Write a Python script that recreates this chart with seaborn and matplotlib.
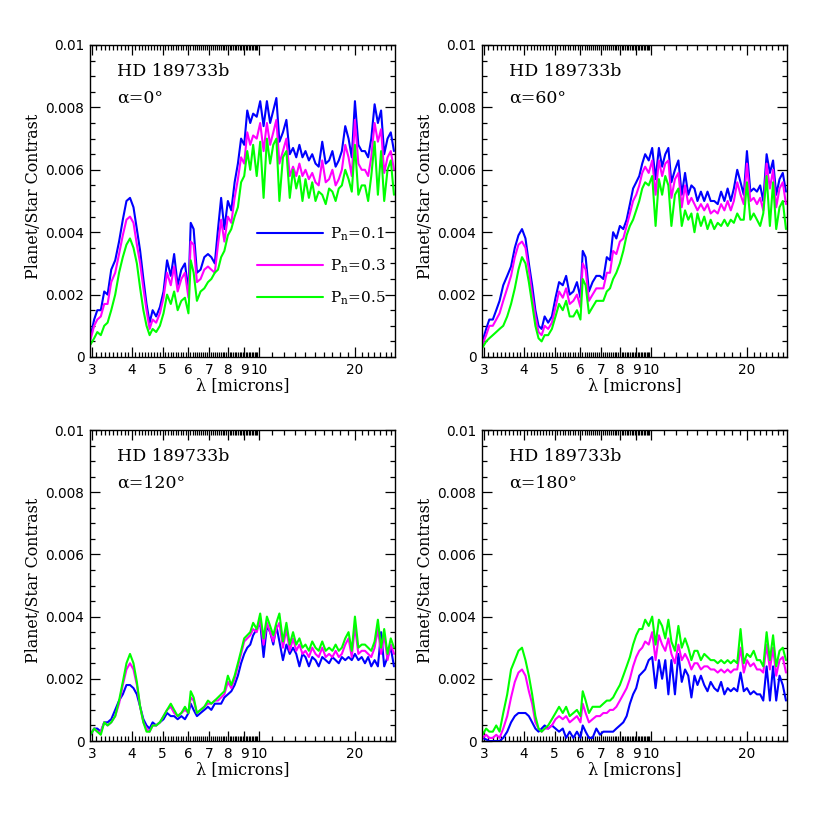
import matplotlib
matplotlib.use("Agg")
import numpy as np
import pandas as pd
import matplotlib.pyplot as plt
import seaborn as sns
from matplotlib.ticker import FixedLocator, FixedFormatter

# ---------------- data ----------------
wavelength = [2.97, 3.05, 3.12, 3.2, 3.28, 3.36, 3.45, 3.55, 3.65, 3.75,
              3.85, 3.95, 4.05, 4.15, 4.25, 4.35, 4.45, 4.55, 4.65, 4.77,
              4.9, 5.03, 5.16, 5.3, 5.43, 5.57, 5.72, 5.87, 6.02, 6.12,
              6.25, 6.4, 6.57, 6.75, 6.93, 7.1, 7.28, 7.45, 7.62, 7.8,
              8.0, 8.2,
              8.4, 8.6, 8.8, 9.0, 9.2, 9.4, 9.6, 9.85, 10.1, 10.35,
              10.6, 10.85, 11.1, 11.35, 11.6, 11.9, 12.2, 12.5, 12.8, 13.1,
              13.4, 13.7, 14.0, 14.35, 14.7, 15.05, 15.4, 15.8, 16.2, 16.6,
              17.0, 17.4, 17.8, 18.2, 18.65, 19.1, 19.55, 20.0, 20.5, 21.0,
              21.5, 22.0, 22.5, 23.05, 23.6, 24.15, 24.7, 25.3, 25.9, 26.5]

# alpha = 0
a0_p01 = [0.00065, 0.0012, 0.0015, 0.0015, 0.0021, 0.0020, 0.0028, 0.0031, 0.0037, 0.0044,
          0.0050, 0.0051, 0.0048, 0.0041, 0.0034, 0.0025, 0.0017, 0.0011, 0.0015, 0.0013,
          0.0016, 0.0021, 0.0031, 0.0026, 0.0033, 0.0023, 0.0028, 0.0030, 0.0021, 0.0043,
          0.0041, 0.0027, 0.0028, 0.0032, 0.0033, 0.0032, 0.0030, 0.0041, 0.0051, 0.0041,
          0.0050, 0.0047,
          0.0056, 0.0062, 0.0070, 0.0068, 0.0079, 0.0075, 0.0078, 0.0077, 0.0082, 0.0074,
          0.0082, 0.0075, 0.0079, 0.0083, 0.0069, 0.0072, 0.0076, 0.0065, 0.0067, 0.0064,
          0.0068, 0.0064, 0.0066, 0.0063, 0.0065, 0.0062, 0.0061, 0.0069, 0.0062, 0.0063,
          0.0066, 0.0061, 0.0063, 0.0066, 0.0074, 0.0070, 0.0064, 0.0082, 0.0068, 0.0066,
          0.0066, 0.0064, 0.0070, 0.0081, 0.0075, 0.0079, 0.0065, 0.0070, 0.0072, 0.0066]
a0_p03 = [0.00055, 0.0010, 0.0012, 0.0013, 0.0017, 0.0017, 0.0024, 0.0027, 0.0033, 0.0039,
          0.0044, 0.0045, 0.0043, 0.0036, 0.0030, 0.0022, 0.0015, 0.0009, 0.0012, 0.0011,
          0.0014, 0.0019, 0.0027, 0.0023, 0.0029, 0.0021, 0.0025, 0.0027, 0.0019, 0.0037,
          0.0036, 0.0024, 0.0025, 0.0028, 0.0029, 0.0028, 0.0027, 0.0036, 0.0044, 0.0037,
          0.0045, 0.0043,
          0.0051, 0.0057, 0.0064, 0.0062, 0.0072, 0.0068, 0.0071, 0.0070, 0.0075, 0.0066,
          0.0075, 0.0068, 0.0072, 0.0076, 0.0062, 0.0066, 0.0070, 0.0058, 0.0061, 0.0058,
          0.0062, 0.0058, 0.0060, 0.0057, 0.0059, 0.0056, 0.0055, 0.0063, 0.0056, 0.0057,
          0.0060, 0.0055, 0.0057, 0.0060, 0.0068, 0.0064, 0.0058, 0.0076, 0.0062, 0.0060,
          0.0060, 0.0058, 0.0064, 0.0075, 0.0069, 0.0073, 0.0059, 0.0064, 0.0066, 0.0060]
a0_p05 = [0.0004, 0.0006, 0.0008, 0.0007, 0.0010, 0.0011, 0.0015, 0.0020, 0.0027, 0.0032,
          0.0036, 0.0038, 0.0035, 0.0030, 0.0022, 0.0015, 0.0010, 0.0007, 0.0009, 0.0008,
          0.0010, 0.0014, 0.0020, 0.0017, 0.0021, 0.0015, 0.0018, 0.0019, 0.0014, 0.0031,
          0.0027, 0.0018, 0.0021, 0.0022, 0.0024, 0.0025, 0.0027, 0.0028, 0.0032, 0.0034,
          0.0039, 0.0041,
          0.0045, 0.0048, 0.0056, 0.0058, 0.0066, 0.0060, 0.0068, 0.0058, 0.0069, 0.0051,
          0.0070, 0.0062, 0.0068, 0.0070, 0.0050, 0.0064, 0.0066, 0.0051, 0.0060, 0.0054,
          0.0058, 0.0050, 0.0057, 0.0051, 0.0056, 0.0050, 0.0053, 0.0052, 0.0049, 0.0054,
          0.0053, 0.0050, 0.0054, 0.0055, 0.0060, 0.0057, 0.0053, 0.0068, 0.0052, 0.0055,
          0.0055, 0.0050, 0.0058, 0.0069, 0.0052, 0.0066, 0.0050, 0.0060, 0.0063, 0.0052]

# alpha = 60
a60_p01 = [0.0005, 0.0009, 0.0012, 0.0012, 0.0015, 0.0018, 0.0023, 0.0026, 0.0029, 0.0035,
           0.0039, 0.0041, 0.0038, 0.0030, 0.0023, 0.0015, 0.0010, 0.0009, 0.0013, 0.0011,
           0.0013, 0.0019, 0.0024, 0.0023, 0.0026, 0.0020, 0.0021, 0.0024, 0.0019, 0.0034,
           0.0032, 0.0021, 0.0024, 0.0026, 0.0026, 0.0025, 0.0032, 0.0031, 0.0040, 0.0038,
           0.0042, 0.0041,
           0.0044, 0.0049, 0.0054, 0.0056, 0.0058, 0.0062, 0.0065, 0.0063, 0.0067, 0.0057,
           0.0067, 0.0061, 0.0065, 0.0067, 0.0056, 0.0060, 0.0063, 0.0052, 0.0059, 0.0052,
           0.0055, 0.0054, 0.0050, 0.0053, 0.0050, 0.0053, 0.0050, 0.0050, 0.0049, 0.0053,
           0.0050, 0.0054, 0.0050, 0.0054, 0.0060, 0.0056, 0.0052, 0.0066, 0.0053, 0.0054,
           0.0053, 0.0055, 0.0050, 0.0065, 0.0059, 0.0063, 0.0052, 0.0057, 0.0059, 0.0053]
a60_p03 = [0.0004, 0.0007, 0.0010, 0.0010, 0.0012, 0.0014, 0.0018, 0.0022, 0.0026, 0.0032,
           0.0036, 0.0037, 0.0035, 0.0028, 0.0020, 0.0013, 0.0008, 0.0007, 0.0010, 0.0009,
           0.0011, 0.0016, 0.0021, 0.0019, 0.0022, 0.0017, 0.0018, 0.0020, 0.0016, 0.0030,
           0.0028, 0.0018, 0.0020, 0.0022, 0.0022, 0.0022, 0.0027, 0.0027, 0.0034, 0.0033,
           0.0037, 0.0038,
           0.0042, 0.0046, 0.0050, 0.0052, 0.0055, 0.0059, 0.0061, 0.0059, 0.0063, 0.0052,
           0.0063, 0.0058, 0.0062, 0.0063, 0.0051, 0.0057, 0.0059, 0.0048, 0.0055, 0.0049,
           0.0051, 0.0049, 0.0047, 0.0049, 0.0047, 0.0049, 0.0046, 0.0047, 0.0046, 0.0049,
           0.0047, 0.0050, 0.0047, 0.0050, 0.0056, 0.0052, 0.0049, 0.0062, 0.0050, 0.0051,
           0.0049, 0.0051, 0.0047, 0.0062, 0.0054, 0.0060, 0.0048, 0.0054, 0.0056, 0.0049]
a60_p05 = [0.0003, 0.0005, 0.0006, 0.0007, 0.0008, 0.0009, 0.0010, 0.0013, 0.0017, 0.0022,
           0.0028, 0.0032, 0.0030, 0.0024, 0.0017, 0.0010, 0.0006, 0.0005, 0.0007, 0.0007,
           0.0009, 0.0013, 0.0017, 0.0015, 0.0018, 0.0013, 0.0013, 0.0015, 0.0012, 0.0025,
           0.0023, 0.0014, 0.0016, 0.0018, 0.0018, 0.0018, 0.0021, 0.0022, 0.0025, 0.0027,
           0.0030, 0.0034,
           0.0039, 0.0042, 0.0044, 0.0047, 0.0050, 0.0054, 0.0056, 0.0055, 0.0058, 0.0042,
           0.0057, 0.0052, 0.0058, 0.0055, 0.0042, 0.0052, 0.0054, 0.0042, 0.0047, 0.0044,
           0.0046, 0.0040, 0.0046, 0.0042, 0.0045, 0.0041, 0.0044, 0.0041, 0.0043, 0.0042,
           0.0044, 0.0042, 0.0044, 0.0043, 0.0046, 0.0044, 0.0044, 0.0056, 0.0044, 0.0046,
           0.0044, 0.0042, 0.0046, 0.0058, 0.0042, 0.0056, 0.0041, 0.0048, 0.0050, 0.0041]

# alpha = 120
a120_p01 = [0.0002, 0.0004, 0.0004, 0.0003, 0.0006, 0.0006, 0.0007, 0.0010, 0.0013, 0.0015,
            0.0018, 0.0018, 0.0017, 0.0015, 0.0011, 0.0007, 0.0005, 0.0004, 0.0006, 0.0005,
            0.0006, 0.0007, 0.0009, 0.0008, 0.0008, 0.0007, 0.0008, 0.0007, 0.0009, 0.0012,
            0.0010, 0.0008, 0.0009, 0.0010, 0.0011, 0.0010, 0.0012, 0.0012, 0.0012, 0.0014,
            0.0015, 0.0016,
            0.0018, 0.0021, 0.0025, 0.0028, 0.0030, 0.0031, 0.0034, 0.0036, 0.0038, 0.0027,
            0.0037, 0.0035, 0.0031, 0.0037, 0.0032, 0.0026, 0.0031, 0.0028, 0.0030, 0.0028,
            0.0024, 0.0028, 0.0027, 0.0024, 0.0027, 0.0026, 0.0024, 0.0027, 0.0026, 0.0025,
            0.0027, 0.0026, 0.0025, 0.0027, 0.0026, 0.0027, 0.0026, 0.0028, 0.0026, 0.0027,
            0.0025, 0.0027, 0.0024, 0.0026, 0.0024, 0.0035, 0.0024, 0.0027, 0.0030, 0.0024]
a120_p03 = [0.0002, 0.0004, 0.0003, 0.0003, 0.0006, 0.0005, 0.0006, 0.0008, 0.0012, 0.0018,
            0.0023, 0.0025, 0.0023, 0.0018, 0.0011, 0.0006, 0.0004, 0.0003, 0.0005, 0.0005,
            0.0006, 0.0008, 0.0010, 0.0011, 0.0009, 0.0008, 0.0009, 0.0010, 0.0009, 0.0014,
            0.0013, 0.0009, 0.0010, 0.0011, 0.0012, 0.0012, 0.0013, 0.0013, 0.0014, 0.0015,
            0.0019, 0.0017,
            0.0020, 0.0024, 0.0028, 0.0032, 0.0033, 0.0034, 0.0036, 0.0035, 0.0039, 0.0031,
            0.0038, 0.0035, 0.0032, 0.0036, 0.0038, 0.0030, 0.0036, 0.0029, 0.0033, 0.0029,
            0.0031, 0.0028, 0.0029, 0.0027, 0.0030, 0.0028, 0.0027, 0.0030, 0.0027, 0.0028,
            0.0027, 0.0029, 0.0027, 0.0028, 0.0031, 0.0033, 0.0027, 0.0037, 0.0028, 0.0029,
            0.0029, 0.0028, 0.0027, 0.0030, 0.0036, 0.0028, 0.0034, 0.0026, 0.0031, 0.0028]
a120_p05 = [0.0002, 0.0004, 0.0003, 0.0002, 0.0006, 0.0005, 0.0006, 0.0008, 0.0013, 0.0019,
            0.0025, 0.0028, 0.0025, 0.0019, 0.0011, 0.0006, 0.0003, 0.0003, 0.0005, 0.0005,
            0.0006, 0.0008, 0.0010, 0.0012, 0.0010, 0.0008, 0.0009, 0.0011, 0.0009, 0.0016,
            0.0014, 0.0009, 0.0010, 0.0011, 0.0013, 0.0012, 0.0013, 0.0014, 0.0015, 0.0016,
            0.0021, 0.0018,
            0.0021, 0.0025, 0.0029, 0.0033, 0.0034, 0.0035, 0.0038, 0.0036, 0.0041, 0.0033,
            0.0040, 0.0037, 0.0034, 0.0038, 0.0041, 0.0032, 0.0038, 0.0031, 0.0035, 0.0031,
            0.0033, 0.0030, 0.0031, 0.0029, 0.0032, 0.0030, 0.0029, 0.0032, 0.0029, 0.0030,
            0.0029, 0.0031, 0.0029, 0.0030, 0.0033, 0.0035, 0.0029, 0.0040, 0.0030, 0.0031,
            0.0031, 0.0030, 0.0029, 0.0032, 0.0039, 0.0030, 0.0036, 0.0028, 0.0033, 0.0030]

# alpha = 180
a180_p01 = [0.0001, 0.00005, 0.0, 0.0, 0.0, 0.0, 0.0001, 0.0003, 0.0006, 0.0008,
            0.0009, 0.0009, 0.0009, 0.0008, 0.0006, 0.0004, 0.0003, 0.0004, 0.0005, 0.0004,
            0.0005, 0.0004, 0.0003, 0.0004, 0.0001, 0.0003, 0.0001, 0.0003, 0.0001, 0.0005,
            0.0003, 0.0001, 0.0001, 0.0004, 0.0002, 0.0003, 0.0003, 0.0003, 0.0003, 0.0004,
            0.0005, 0.0006,
            0.0008, 0.0012, 0.0015, 0.0017, 0.0021, 0.0022, 0.0023, 0.0026, 0.0027, 0.0017,
            0.0026, 0.0020, 0.0026, 0.0015, 0.0026, 0.0015, 0.0028, 0.0019, 0.0023, 0.0021,
            0.0014, 0.0021, 0.0018, 0.0021, 0.0018, 0.0016, 0.0019, 0.0017, 0.0016, 0.0019,
            0.0015, 0.0017, 0.0016, 0.0017, 0.0016, 0.0022, 0.0016, 0.0017, 0.0015, 0.0016,
            0.0015, 0.0015, 0.0013, 0.0024, 0.0013, 0.0024, 0.0013, 0.0021, 0.0018, 0.0013]
a180_p03 = [0.0001, 0.0002, 0.0001, 0.0001, 0.0002, 0.0001, 0.0004, 0.0008, 0.0014, 0.0019,
            0.0022, 0.0023, 0.0021, 0.0016, 0.0012, 0.0006, 0.0004, 0.0003, 0.0004, 0.0004,
            0.0005, 0.0007, 0.0008, 0.0007, 0.0008, 0.0006, 0.0007, 0.0008, 0.0006, 0.0012,
            0.0009, 0.0006, 0.0007, 0.0008, 0.0008, 0.0009, 0.0009, 0.0010, 0.0010, 0.0011,
            0.0013, 0.0015,
            0.0017, 0.0020, 0.0024, 0.0027, 0.0029, 0.0030, 0.0032, 0.0031, 0.0035, 0.0026,
            0.0034, 0.0031, 0.0029, 0.0033, 0.0028, 0.0025, 0.0031, 0.0026, 0.0028, 0.0026,
            0.0023, 0.0025, 0.0025, 0.0023, 0.0024, 0.0024, 0.0023, 0.0023, 0.0022, 0.0023,
            0.0022, 0.0023, 0.0022, 0.0023, 0.0023, 0.0030, 0.0022, 0.0026, 0.0024, 0.0025,
            0.0023, 0.0023, 0.0022, 0.0031, 0.0023, 0.0030, 0.0021, 0.0026, 0.0027, 0.0022]
a180_p05 = [0.0002, 0.0004, 0.0003, 0.0003, 0.0005, 0.0003, 0.0009, 0.0015, 0.0023, 0.0026,
            0.0029, 0.0030, 0.0026, 0.0021, 0.0015, 0.0008, 0.0004, 0.0003, 0.0004, 0.0005,
            0.0007, 0.0009, 0.0011, 0.0009, 0.0011, 0.0008, 0.0009, 0.0010, 0.0008, 0.0016,
            0.0013, 0.0009, 0.0011, 0.0011, 0.0011, 0.0012, 0.0013, 0.0013, 0.0014, 0.0016,
            0.0018, 0.0021,
            0.0024, 0.0027, 0.0031, 0.0034, 0.0036, 0.0036, 0.0039, 0.0037, 0.0040, 0.0031,
            0.0039, 0.0037, 0.0033, 0.0039, 0.0032, 0.0029, 0.0037, 0.0030, 0.0033, 0.0030,
            0.0026, 0.0029, 0.0029, 0.0026, 0.0028, 0.0027, 0.0026, 0.0026, 0.0025, 0.0026,
            0.0025, 0.0026, 0.0025, 0.0026, 0.0025, 0.0036, 0.0025, 0.0028, 0.0027, 0.0029,
            0.0026, 0.0026, 0.0024, 0.0035, 0.0026, 0.0034, 0.0024, 0.0029, 0.0030, 0.0026]

series_labels = ["P$_\\mathrm{n}$=0.1", "P$_\\mathrm{n}$=0.3", "P$_\\mathrm{n}$=0.5"]
series_colors = ["#0000ff", "#ff00ff", "#00ff00"]
panel_alpha = ["0", "60", "120", "180"]
panel_data = [(a0_p01, a0_p03, a0_p05), (a60_p01, a60_p03, a60_p05),
              (a120_p01, a120_p03, a120_p05), (a180_p01, a180_p03, a180_p05)]
planet_name = "HD 189733b"

x_major = [3, 4, 5, 6, 7, 8, 9, 10, 20]
x_major_labels = ["3", "4", "5", "6", "7", "8", "9", "10", "20"]
y_major = [0, 0.002, 0.004, 0.006, 0.008, 0.01]
y_major_labels = ["0", "0.002", "0.004", "0.006", "0.008", "0.01"]

# ---------------- styling ----------------
sns.set_theme(style="ticks")
plt.rcParams["font.family"] = ["DejaVu Serif"]
plt.rcParams["mathtext.fontset"] = "dejavuserif"
for key in ["text.color", "axes.labelcolor", "xtick.color", "ytick.color",
            "axes.edgecolor"]:
    plt.rcParams[key] = "black"

W = 830.0
fig = plt.figure(figsize=(8.3, 8.3), dpi=100)
fig.patch.set_facecolor("white")

rects = [
    (90 / W, (W - 357) / W, 305 / W, 312 / W),
    (482 / W, (W - 357) / W, 305 / W, 312 / W),
    (90 / W, (W - 741) / W, 305 / W, 311 / W),
    (482 / W, (W - 741) / W, 305 / W, 311 / W),
]

minor_x = [round(3 + 0.1 * i, 1) for i in range(1, 70)]
minor_x = [v for v in minor_x if abs(v - round(v)) > 1e-6] + \
          [11, 12, 13, 14, 15, 16, 17, 18, 19, 21, 22, 23, 24, 25, 26]
minor_y = [0.0005 * i for i in range(21) if i % 4 != 0]

palette = dict(zip(series_labels, series_colors))

for k, rect in enumerate(rects):
    ax = fig.add_axes(rect)
    rows = []
    for lab, vals in zip(series_labels, panel_data[k]):
        rows.append(pd.DataFrame({"wl": wavelength, "c": vals, "s": lab}))
    df = pd.concat(rows, ignore_index=True)
    sns.lineplot(data=df, x="wl", y="c", hue="s", palette=palette,
                 hue_order=series_labels, estimator=None, sort=False,
                 linewidth=1.5, ax=ax, legend=(k == 0))
    ax.set_xscale("log")
    ax.set_xlim(2.96, 26.7)
    ax.set_ylim(0, 0.01)
    ax.xaxis.set_major_locator(FixedLocator(x_major))
    ax.xaxis.set_major_formatter(FixedFormatter(x_major_labels))
    ax.xaxis.set_minor_locator(FixedLocator(minor_x))
    ax.xaxis.set_minor_formatter(FixedFormatter([""] * len(minor_x)))
    ax.yaxis.set_major_locator(FixedLocator(y_major))
    ax.yaxis.set_major_formatter(FixedFormatter(y_major_labels))
    ax.yaxis.set_minor_locator(FixedLocator(minor_y))
    ax.tick_params(which="both", direction="in", top=True, right=True,
                   colors="black", width=0.9)
    ax.tick_params(which="major", length=7, labelsize=9.8, pad=4)
    ax.tick_params(which="minor", length=3.5)
    for t in ax.get_xticklabels() + ax.get_yticklabels():
        t.set_fontfamily("DejaVu Sans")
    for sp in ax.spines.values():
        sp.set_color("black")
        sp.set_linewidth(1.0)
    ax.set_xlabel("λ [microns]", fontsize=11.6, va="top")
    ax.xaxis.set_label_coords(0.5, -0.064)
    ax.set_ylabel("Planet/Star Contrast", fontsize=11.4)
    ax.yaxis.set_label_coords(-0.157, 0.515)
    ax.text(0.088, 0.9, planet_name, transform=ax.transAxes, fontsize=12.5,
            ha="left", va="baseline")
    ax.text(0.088, 0.815, "α=" + panel_alpha[k] + "°", transform=ax.transAxes,
            fontsize=12.5, ha="left", va="baseline")
    if k == 0:
        leg = ax.legend(loc="upper left", bbox_to_anchor=(0.548, 0.422),
                        frameon=False, fontsize=11, handlelength=4.3,
                        handletextpad=0.5, labelspacing=0.95, borderpad=0,
                        borderaxespad=0, title=None)
        for ln in leg.get_lines():
            ln.set_linewidth(1.5)
        for t in leg.get_texts():
            t.set_color("black")

fig.savefig("out.png", dpi=100, facecolor="white")
